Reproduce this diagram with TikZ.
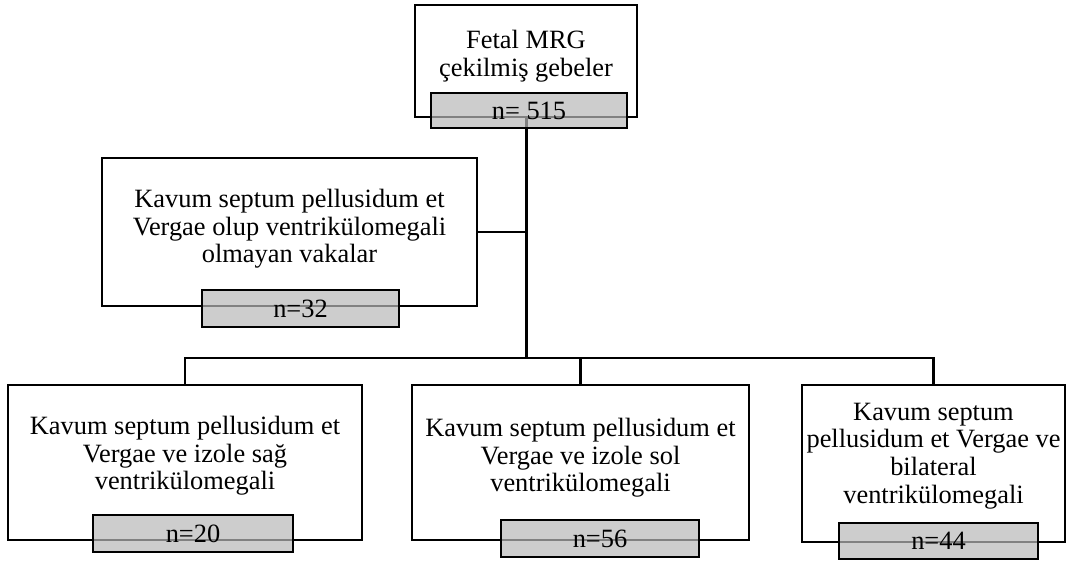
\documentclass[tikz,border=0pt]{standalone}
\usepackage{fontspec}
\setmainfont{Liberation Serif}
\definecolor{nfill}{RGB}{184,184,184}
\begin{document}
\begin{tikzpicture}[x=1pt,y=-1pt,
  bigbox/.style={draw=black,line width=2.3pt,fill=white,rectangle,inner sep=0pt},
  nbox/.style={draw=black,line width=2.3pt,fill=nfill,fill opacity=0.7,text opacity=1,rectangle,inner sep=0pt,font=\fontsize{26.4}{28}\selectfont},
  txt/.style={align=center,inner sep=0pt,font=\fontsize{26.4}{27.6}\selectfont},
  conn/.style={draw=black,line width=2.3pt},
  mainconn/.style={draw=black,line width=3pt}]
\useasboundingbox (0,0) rectangle (1072,562);
% big boxes
\node[bigbox,minimum width=222pt,minimum height=112pt] (top) at (526,61) {};
\node[bigbox,minimum width=375pt,minimum height=148pt] (left) at (289.5,232) {};
\node[bigbox,minimum width=354pt,minimum height=155pt] (b1) at (185,462.5) {};
\node[bigbox,minimum width=337pt,minimum height=155pt] (b2) at (580.5,462.5) {};
\node[bigbox,minimum width=263pt,minimum height=157pt] (b3) at (933.5,463.5) {};
% texts
\node[txt] (ttop) at (526,56) {Fetal MRG\\çekilmiş gebeler};
\node[txt] (tleft) at (289.5,229) {Kavum septum pellusidum et\\Vergae olup ventrikülomegali\\olmayan vakalar};
\node[txt] (tb1) at (185,456) {Kavum septum pellusidum et\\Vergae ve izole sağ\\ventrikülomegali};
\node[txt] (tb2) at (580.5,458) {Kavum septum pellusidum et\\Vergae ve izole sol\\ventrikülomegali};
\node[txt] (tb3) at (933.5,456) {Kavum septum\\pellusidum et Vergae ve\\bilateral\\ventrikülomegali};
% connectors
\coordinate (j1) at (526,232);
\coordinate (j2) at (526,358);
\draw[mainconn] (top.south) -- (j2);
\draw[conn] (left.east) -- (j1);
\draw[conn] (b1.north) |- (j2) -| (b3.north);
\draw[conn] (b2.north) -- (b2.north |- j2);
% n boxes
\node[nbox,minimum width=196pt,minimum height=35pt] (ntop) at (529,110.5) {n= 515};
\node[nbox,minimum width=197pt,minimum height=37pt] (nleft) at (300.5,308.5) {n=32};
\node[nbox,minimum width=200pt,minimum height=37pt] (n1) at (193,533.5) {n=20};
\node[nbox,minimum width=198pt,minimum height=37pt] (n2) at (600,538.5) {n=56};
\node[nbox,minimum width=199pt,minimum height=36pt] (n3) at (938.5,541) {n=44};
\end{tikzpicture}
\end{document}
